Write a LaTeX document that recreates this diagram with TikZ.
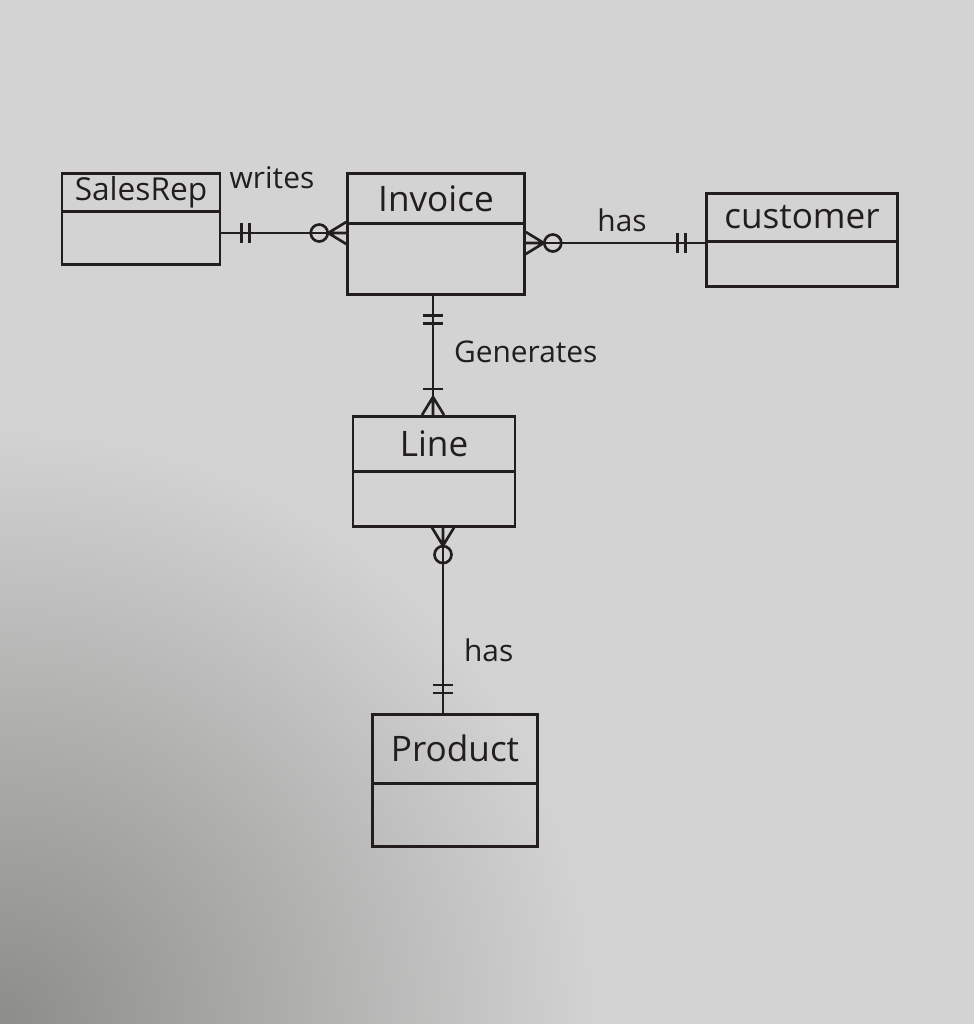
\documentclass[tikz,border=0pt]{standalone}
\usepackage{fontspec}
\usetikzlibrary{positioning, calc}
\newfontfamily\handfont{Open Sans}
\definecolor{paper}{RGB}{210,211,210}
\definecolor{paperdark}{RGB}{140,140,138}
\definecolor{ink}{RGB}{35,30,30}
\tikzset{
  enthead/.style={rectangle, draw=ink, line width=1.5pt, text=ink,
    font=\handfont\fontsize{20}{24}\selectfont, inner sep=0pt},
  entbody/.style={rectangle, draw=ink, line width=1.5pt, inner sep=0pt},
  conn/.style={draw=ink, line width=1.5pt},
  rel/.style={font=\handfont\fontsize{17}{20}\selectfont, text=ink, inner sep=1pt},
  onemark/.pic={\draw[conn] (-26,-10) -- (-26,10);},
  twomark/.pic={\draw[conn] (-20,-10) -- (-20,10) (-28,-10) -- (-28,10);},
  crowfoot/.pic={\draw[conn] (-18,0) -- (0,-11) (-18,0) -- (0,0) (-18,0) -- (0,11);},
  zeromark/.pic={\draw[conn] (-27,0) circle (0.17cm);}
}

\begin{document}
\begin{tikzpicture}[x=0.02cm, y=-0.02cm]
  % Paper sheet
  \begin{scope}
    \clip (0,0) rectangle (974,1024);
    \fill[paper] (0,0) rectangle (974,1024);
    \shade[inner color=paperdark, outer color=paper] (0,1024) circle (12cm);
  \end{scope}
  \useasboundingbox (0,0) rectangle (974,1024);

  % Entities
  \node[enthead, minimum width=3.16cm, minimum height=0.76cm, anchor=north,
    font=\handfont\fontsize{18}{22}\selectfont] (rep) at (141,172) {SalesRep};
  \node[entbody, minimum width=3.16cm, minimum height=1.06cm, below=-1.5pt of rep] (repb) {};

  \node[enthead, minimum width=3.54cm, minimum height=1.0cm, anchor=north] (inv) at (436,172) {Invoice};
  \node[entbody, minimum width=3.54cm, minimum height=1.42cm, below=-1.5pt of inv] (invb) {};

  \node[enthead, minimum width=3.82cm, minimum height=0.96cm, anchor=north] (cust) at (802,192) {customer};
  \node[entbody, minimum width=3.82cm, minimum height=0.9cm, below=-1.5pt of cust] (custb) {};

  \node[enthead, minimum width=3.24cm, minimum height=1.1cm, anchor=north] (line) at (434,415) {Line};
  \node[entbody, minimum width=3.24cm, minimum height=1.1cm, below=-1.5pt of line] (lineb) {};

  \node[enthead, minimum width=3.3cm, minimum height=1.38cm, anchor=north] (prod) at (455,713) {Product};
  \node[entbody, minimum width=3.3cm, minimum height=1.26cm, below=-1.5pt of prod] (prodb) {};

  % SalesRep -- Invoice
  \draw[conn] (repb.east |- 0,233) -- (invb.west |- 0,233);
  \pic[rotate=180] at (repb.east |- 0,233) {twomark};
  \pic at (invb.west |- 0,233) {crowfoot};
  \pic at (invb.west |- 0,233) {zeromark};
  \node[rel] (writes) at (272,178) {writes};

  % Invoice -- customer
  \draw[conn] (invb.east |- 0,243) -- (custb.west |- 0,243);
  \pic[rotate=180] at (invb.east |- 0,243) {crowfoot};
  \pic[rotate=180] at (invb.east |- 0,243) {zeromark};
  \pic at (custb.west |- 0,243) {twomark};
  \node[rel] (has1) at (622,220) {has};

  % Invoice -- Line
  \draw[conn] (invb.south -| 433,0) -- (line.north -| 433,0);
  \pic[rotate=90] at (invb.south -| 433,0) {twomark};
  \pic[rotate=-90] at (line.north -| 433,0) {crowfoot};
  \pic[rotate=-90] at (line.north -| 433,0) {onemark};
  \node[rel, anchor=west] (gen) at (452,352) {Generates};

  % Line -- Product
  \draw[conn] (lineb.south -| 443,0) -- (prod.north -| 443,0);
  \pic[rotate=90] at (lineb.south -| 443,0) {crowfoot};
  \pic[rotate=90] at (lineb.south -| 443,0) {zeromark};
  \pic[rotate=-90] at (prod.north -| 443,0) {twomark};
  \node[rel, anchor=west] (has2) at (462,650) {has};
\end{tikzpicture}
\end{document}
